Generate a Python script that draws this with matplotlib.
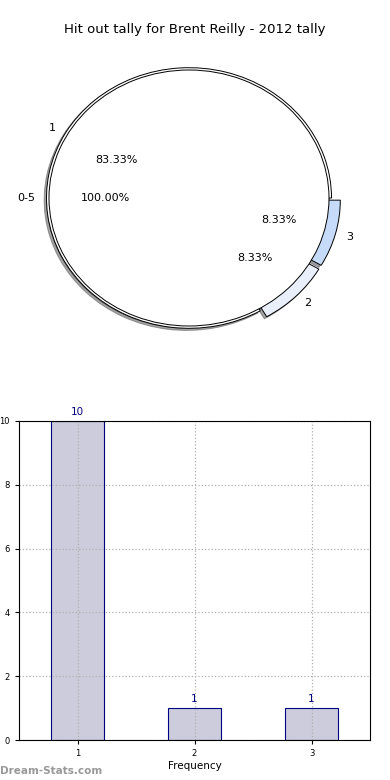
import matplotlib
matplotlib.use("Agg")
import matplotlib.pyplot as plt

title = "Hit out tally for Brent Reilly - 2012 tally"

# inner pie
innerLabels = ["0-5"]
innerValues = [12]

# outer pie
outerLabels = ["1", "2", "3"]
outerValues = [10, 1, 1]
outerColors = ["white", "#e9f0fc", "#c6dbfa"]
outerExplode = [0, 0.065, 0.065]

# bar chart
barX = [1, 2, 3]
barCounts = [10, 1, 1]
barTicks = ["1", "2", "3"]

fig = plt.figure(figsize=(3.9, 7.8), dpi=100)
W, H = 390.0, 780.0

# pie axes (elliptical, like the original)
cx, cy, sx, sy = 189, 198, 140, 128
lim = 1.3
axPie = fig.add_axes([(cx - lim * sx) / W, 1 - (cy + lim * sy) / H,
                      2 * lim * sx / W, 2 * lim * sy / H])
wp = dict(edgecolor="black", linewidth=0.7)
shad = dict(ox=-0.012, oy=-0.012)
axPie.pie(outerValues, labels=outerLabels, colors=outerColors, explode=outerExplode,
          radius=1.018, autopct="%.2f%%", pctdistance=0.6 / 1.018, labeldistance=1.1 / 1.018,
          startangle=0, shadow=shad, wedgeprops=wp, textprops=dict(fontsize=8))
axPie.pie(innerValues, labels=innerLabels, colors=["white"], radius=1.0,
          autopct="%.2f%%", pctdistance=0.6, labeldistance=1.1, startangle=0,
          shadow=shad, wedgeprops=wp, textprops=dict(fontsize=8))
axPie.set_aspect("auto")
axPie.set_xlim(-lim, lim)
axPie.set_ylim(-lim, lim)

fig.text(195 / W, 1 - 30 / H, title, ha="center", va="center", fontsize=9.5)

# bar axes
x0, x1, y0, y1 = 19, 370, 421, 740
axBar = fig.add_axes([x0 / W, 1 - y1 / H, (x1 - x0) / W, (y1 - y0) / H])
axBar.bar(barX, barCounts, width=0.45, color="#ccccdd", edgecolor="navy", linewidth=0.8, zorder=2)
for xv, cv in zip(barX, barCounts):
    axBar.text(xv, cv + 0.12, str(cv), ha="center", va="bottom", color="navy", fontsize=7.5)
axBar.set_xlim(0.5, 3.5)
axBar.set_ylim(0, 10)
axBar.set_xticks(barX)
axBar.set_xticklabels(barTicks)
axBar.set_yticks([0, 2, 4, 6, 8, 10])
axBar.tick_params(labelsize=6, length=3)
axBar.grid(True, linestyle=":", color="#b0b0b0", linewidth=0.9)
axBar.set_axisbelow(False)
for sp in axBar.spines.values():
    sp.set_zorder(5)
axBar.set_xlabel("Frequency", fontsize=7.5, labelpad=2)
axBar.set_ylabel("Occurrences", fontsize=7.5, labelpad=8)

fig.text(0 / W, 1 - 771 / H, "Dream-Stats.com", ha="left", va="center",
         color="#999999", fontsize=7.5, fontweight="bold")

fig.savefig("out.png", dpi=100)
